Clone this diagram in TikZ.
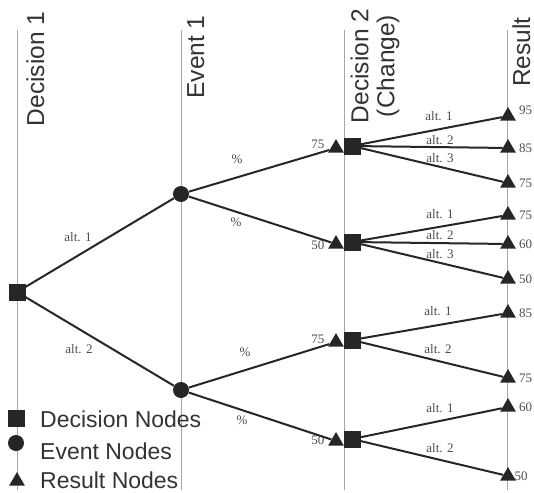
\documentclass[tikz,border=0pt]{standalone}
\usepackage{fontspec}
\setmainfont{Liberation Serif}
\setsansfont{Liberation Sans}
\usetikzlibrary{shapes.geometric, positioning}

\begin{document}
\begin{tikzpicture}[x=1pt, y=-1pt,
  stage/.style={draw=black!35, line width=1pt},
  decision/.style={rectangle, fill=black!85, draw=black!85, minimum size=16pt, inner sep=0pt},
  event/.style={circle, fill=black!85, minimum size=16pt, inner sep=0pt},
  result/.style={regular polygon, regular polygon sides=3, fill=black!85, minimum size=18pt, inner sep=0pt},
  branch/.style={draw=black!85, line width=2pt},
  head/.style={font=\sffamily\fontsize{24.5}{26}\selectfont, text=black!80, inner sep=0pt},
  legend/.style={font=\sffamily\fontsize{23}{24}\selectfont, text=black!80, inner sep=0pt, anchor=west},
  lbl/.style={font=\fontsize{13}{13}\selectfont, text=black!70, inner sep=0pt},
  val/.style={lbl, label distance=5.5pt}]

\useasboundingbox (0,0) rectangle (534,492);

% Stage lines
\foreach \x in {17,181,344,507} \draw[stage] (\x,30) -- (\x,490);

% Headings
\node[head, rotate=90, anchor=base] (hdec1) at (44,69) {Decision 1};
\node[head, rotate=90, anchor=base] (hevt1) at (204,57) {Event 1};
\node[head, rotate=90, align=center] (hdec2) at (375,66) {Decision 2\\(Change)};
\node[head, rotate=90, anchor=base] (hres) at (530,52) {Result};

% Decision 1
\node[decision] (dec1) at (17,292) {};

% Event 1
\node[event] (evt1) at (181,194) {};
\node[event] (evt2) at (181,390) {};

% Decision 2 with incoming results
\node[decision] (dec2a) at (352,146) {};
\node[decision] (dec2b) at (352,242) {};
\node[decision] (dec2c) at (352,340) {};
\node[decision] (dec2d) at (352,439) {};
\node[result] (pre1) at (336,148) {};
\node[result] (pre2) at (336,244) {};
\node[result] (pre3) at (336,342) {};
\node[result] (pre4) at (336,441) {};
\node[lbl, left=6pt of pre1, yshift=4pt] (pv1) {75};
\node[lbl, left=6pt of pre2, yshift=-1pt] (pv2) {50};
\node[lbl, left=6pt of pre3, yshift=3pt] (pv3) {75};
\node[lbl, left=6pt of pre4, yshift=1pt] (pv4) {50};

% Results
\node[result, label={[val, yshift=6pt]right:95}] (res1) at (508,116) {};
\node[result, label={[val]right:85}] (res2) at (508,148) {};
\node[result, label={[val]right:75}] (res3) at (508,183) {};
\node[result, label={[val]right:75}] (res4) at (508,215) {};
\node[result, label={[val]right:60}] (res5) at (508,244) {};
\node[result, label={[val]right:50}] (res6) at (508,279) {};
\node[result, label={[val]right:85}] (res7) at (508,313) {};
\node[result, label={[val]right:75}] (res8) at (508,378) {};
\node[result, label={[val]right:60}] (res9) at (508,407) {};
\node[result, label={[lbl, label distance=1pt]right:50}] (res10) at (508,476) {};

% Branches
\draw[branch] (dec1) -- (evt1);
\draw[branch] (dec1) -- (evt2);
\draw[branch] (evt1) -- (pre1);
\draw[branch] (evt1) -- (pre2);
\draw[branch] (evt2) -- (pre3);
\draw[branch] (evt2) -- (pre4);
\draw[branch] (dec2a) -- (res1);
\draw[branch] (dec2a) -- (res2);
\draw[branch] (dec2a) -- (res3);
\draw[branch] (dec2b) -- (res4);
\draw[branch] (dec2b) -- (res5);
\draw[branch] (dec2b) -- (res6);
\draw[branch] (dec2c) -- (res7);
\draw[branch] (dec2c) -- (res8);
\draw[branch] (dec2d) -- (res9);
\draw[branch] (dec2d) -- (res10);

% Branch labels
\node[lbl] (a11) at (78,237) {alt. 1};
\node[lbl] (a12) at (79,349) {alt. 2};
\node[lbl] (p11) at (237,159) {\%};
\node[lbl] (p12) at (236,222) {\%};
\node[lbl] (p21) at (245,352) {\%};
\node[lbl] (p22) at (242,420) {\%};
\node[lbl] (b11) at (439,116) {alt. 1};
\node[lbl] (b12) at (440,140) {alt. 2};
\node[lbl] (b13) at (440,158) {alt. 3};
\node[lbl] (b21) at (440,214) {alt. 1};
\node[lbl] (b22) at (440,235) {alt. 2};
\node[lbl] (b23) at (440,254) {alt. 3};
\node[lbl] (b31) at (438,311) {alt. 1};
\node[lbl] (b32) at (438,349) {alt. 2};
\node[lbl] (b41) at (440,408) {alt. 1};
\node[lbl] (b42) at (440,448) {alt. 2};

% Legend
\node[decision] (kdec) at (16,418) {};
\node[event] (kevt) at (16,443) {};
\node[result] (kres) at (17,481) {};
\node[legend] (tdec) at (40,419) {Decision Nodes};
\node[legend] (tevt) at (40,451) {Event Nodes};
\node[legend] (tres) at (40,480) {Result Nodes};

\end{tikzpicture}
\end{document}
